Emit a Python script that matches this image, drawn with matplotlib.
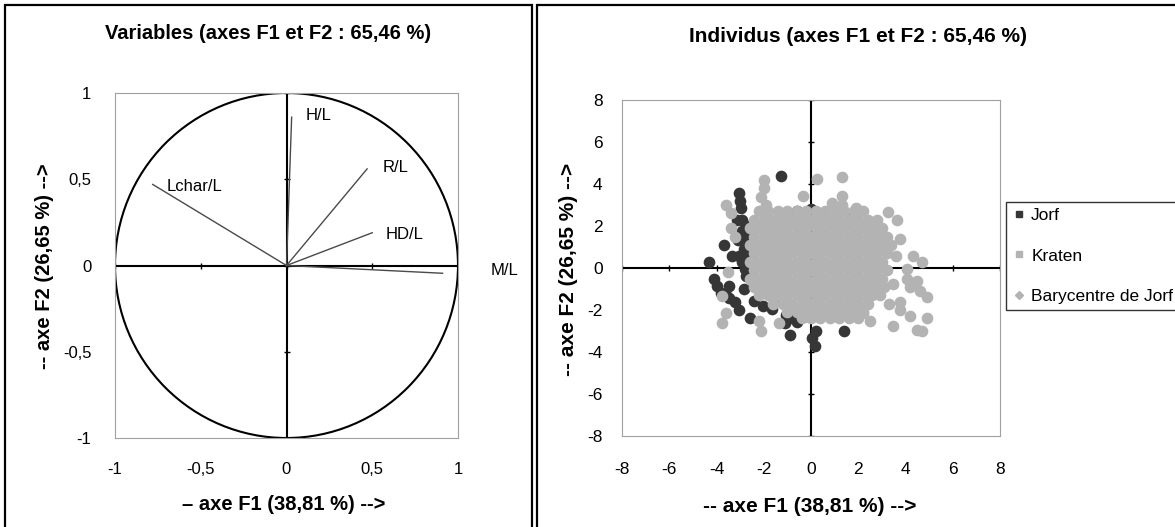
import matplotlib
matplotlib.use("Agg")
import matplotlib.pyplot as plt
from matplotlib.patches import Circle, Rectangle
from matplotlib.lines import Line2D

plt.rcParams['font.family'] = ['Liberation Sans', 'DejaVu Sans']
plt.rcParams['axes.unicode_minus'] = False

# ---- data: correlation circle (variables) ----
var_names = ['H/L', 'R/L', 'HD/L', 'Lchar/L', 'M/L']
var_f1 = [0.03, 0.47, 0.50, -0.78, 0.91]
var_f2 = [0.86, 0.56, 0.19, 0.47, -0.045]
label_x = [0.11, 0.56, 0.58, -0.70, 1.27]
label_y = [0.87, 0.57, 0.18, 0.46, -0.03]
circle_ticks = [-1, -0.5, 0, 0.5, 1]
circle_ticklabels = ['-1', '-0,5', '0', '0,5', '1']

# ---- data: individuals ----
jorf_x = [-1.25, -3.05, -3.0, -2.95, -3.15, -2.9, -2.7, -2.7, -3.7, -3.1, -2.75, -2.85,
          -3.05, -3.35, -2.9, -4.3, -4.1, -4.0, -3.45, -3.6, -3.8, -3.45, -3.2, -3.05,
          -2.6, -2.05, -1.65, -1.35, -1.05, -0.8, -0.9, 0.05, 0.2, 0.15, 1.4, -2.75,
          -2.8, -2.8, -2.85, -0.9, -0.5, -0.2, 0.0, 0.2, -0.6, 1.7, -2.4, -1.3,
          -1.1, -0.6, -2.9]
jorf_y = [4.4, 3.55, 3.2, 2.85, 2.3, 2.3, 2.0, 1.7, 1.1, 1.35, 1.35, 0.9,
          0.55, 0.55, 0.3, 0.3, -0.5, -0.85, -0.85, -1.3, -1.2, -1.45, -1.6, -2.0,
          -2.4, -1.8, -1.95, -1.45, -2.25, -2.4, -3.2, -3.35, -3.0, -3.7, -3.0, -0.4,
          -0.05, 0.6, -1.0, -2.0, -2.3, -2.3, 2.8, 2.6, 2.7, 2.55, -1.55, -1.5,
          -2.6, -2.55, 1.75]

# Kraten: dense core, one row of F2 with its F1 values
kraten_rows = [
    (2.7, [-2.2, -1.8, -1.4, -1.0, -0.6, -0.2, 0.2, 0.6, 1.0, 1.4, 1.8, 2.2]),
    (2.3, [-2.4, -2.0, -1.6, -1.2, -0.8, -0.4, 0.0, 0.4, 0.8, 1.2, 1.6, 2.0, 2.4, 2.8]),
    (1.9, [-2.6, -2.2, -1.8, -1.4, -1.0, -0.6, -0.2, 0.2, 0.6, 1.0, 1.4, 1.8, 2.2, 2.6, 3.0]),
    (1.5, [-2.4, -2.0, -1.6, -1.2, -0.8, -0.4, 0.0, 0.4, 0.8, 1.2, 1.6, 2.0, 2.4, 2.8, 3.2]),
    (1.1, [-2.6, -2.2, -1.8, -1.4, -1.0, -0.6, -0.2, 0.2, 0.6, 1.0, 1.4, 1.8, 2.2, 2.6, 3.0, 3.4]),
    (0.7, [-2.4, -2.0, -1.6, -1.2, -0.8, -0.4, 0.0, 0.4, 0.8, 1.2, 1.6, 2.0, 2.4, 2.8, 3.2]),
    (0.3, [-2.6, -2.2, -1.8, -1.4, -1.0, -0.6, -0.2, 0.2, 0.6, 1.0, 1.4, 1.8, 2.2, 2.6, 3.0]),
    (-0.1, [-2.4, -2.0, -1.6, -1.2, -0.8, -0.4, 0.0, 0.4, 0.8, 1.2, 1.6, 2.0, 2.4, 2.8, 3.2]),
    (-0.5, [-2.6, -2.2, -1.8, -1.4, -1.0, -0.6, -0.2, 0.2, 0.6, 1.0, 1.4, 1.8, 2.2, 2.6, 3.0]),
    (-0.9, [-2.4, -2.0, -1.6, -1.2, -0.8, -0.4, 0.0, 0.4, 0.8, 1.2, 1.6, 2.0, 2.4, 2.8, 3.1]),
    (-1.3, [-2.2, -1.8, -1.4, -1.0, -0.6, -0.2, 0.2, 0.6, 1.0, 1.4, 1.8, 2.2, 2.6, 2.9]),
    (-1.7, [-1.6, -1.2, -0.8, -0.4, 0.0, 0.4, 0.8, 1.2, 1.6, 2.0, 2.4]),
    (-2.1, [-1.0, -0.6, -0.2, 0.2, 0.6, 1.0, 1.4, 1.8, 2.2]),
    (-2.4, [-0.4, 0.0, 0.4, 0.8, 1.2, 1.6, 2.0]),
]
# Kraten: scattered individuals around the core
kraten_out_x = [-2.0, -2.0, -2.1, -1.9, -3.6, -3.4, -3.4, -3.2, -0.35, 0.27, 1.33, 1.33,
                0.9, 1.3, 1.9, 3.25, 3.65, 3.75, 3.6, 4.3, 4.7, 4.05, 4.05, 4.5,
                4.6, 4.9, 3.3, 3.75, 4.2, 4.9, 3.45, 2.5, 4.5, 4.7, 3.75, 3.45,
                4.2, -3.75, -2.1, -2.2, -1.35, -3.75, -3.6, -3.5, 2.2]
kraten_out_y = [4.2, 3.8, 3.4, 3.0, 3.0, 2.6, 1.9, 1.5, 3.45, 4.25, 4.35, 3.45,
                3.1, 3.0, 2.85, 2.65, 2.3, 1.4, 0.55, 0.55, 0.3, -0.05, -0.5, -0.6,
                -1.1, -1.4, -1.7, -2.0, -2.3, -2.4, -2.75, -2.5, -2.95, -3.0, -1.6, -0.75,
                -0.9, -2.6, -3.0, -2.5, -2.6, -1.35, -2.15, -0.2, -2.15]

bary_x = [-1.6]
bary_y = [-0.5]

scatter_ticks = [-8, -6, -4, -2, 0, 2, 4, 6, 8]

kraten_x = list(kraten_out_x)
kraten_y = list(kraten_out_y)
for y, xs in kraten_rows:
    kraten_x += xs
    kraten_y += [y] * len(xs)

dark = '#363636'
light = '#b3b3b3'
box_grey = '#a0a0a0'
W, H = 1175, 527

fig = plt.figure(figsize=(11.75, 5.27), dpi=100)

# panel frames
fig.add_artist(Rectangle((5 / W, -0.05), 527 / W, 1 - 5 / H + 0.05,
                         transform=fig.transFigure, fill=False, lw=1.6, ec='black'))
fig.add_artist(Rectangle((537 / W, -0.05), 700 / W, 1 - 5 / H + 0.05,
                         transform=fig.transFigure, fill=False, lw=1.6, ec='black'))

# ---- left: correlation circle ----
ax1 = fig.add_axes([115 / W, 1 - 438 / H, 343 / W, 345 / H])
ax1.set_xlim(-1, 1)
ax1.set_ylim(-1, 1)
ax1.add_patch(Circle((0, 0), 1, fill=False, ec='black', lw=1.5))
ax1.axhline(0, color='black', lw=1.5)
ax1.axvline(0, color='black', lw=1.5)
ax1.plot(circle_ticks, [0] * len(circle_ticks), ls='none', marker='|', color='black', ms=5)
ax1.plot([0] * len(circle_ticks), circle_ticks, ls='none', marker='_', color='black', ms=5)
for name, x, y, lx, ly in zip(var_names, var_f1, var_f2, label_x, label_y):
    ax1.plot([0, x], [0, y], color='#4a4a4a', lw=1.0)
    ax1.text(lx, ly, name, fontsize=12, va='center', ha='left' if name != 'M/L' else 'center',
             clip_on=False)
ax1.set_xticks(circle_ticks)
ax1.set_xticklabels(circle_ticklabels)
ax1.set_yticks(circle_ticks)
ax1.set_yticklabels(circle_ticklabels)
ax1.tick_params(axis='x', length=0, labelsize=12, pad=17)
ax1.tick_params(axis='y', length=0, labelsize=12, pad=17)
for s in ax1.spines.values():
    s.set_color(box_grey)

fig.text(268 / W, 1 - 34 / H, 'Variables (axes F1 et F2 : 65,46 %)', fontsize=14.5,
         fontweight='bold', ha='center', va='center')
fig.text(284 / W, 1 - 504 / H, '– axe F1 (38,81 %) -->', fontsize=14.5,
         fontweight='bold', ha='center', va='center')
fig.text(45 / W, 1 - 266 / H, '-- axe F2 (26,65 %) -->', fontsize=14.5,
         fontweight='bold', ha='center', va='center', rotation=90)

# ---- right: individuals ----
ax2 = fig.add_axes([622 / W, 1 - 436 / H, 378 / W, 336 / H])
ax2.set_xlim(-8, 8)
ax2.set_ylim(-8, 8)
ax2.axhline(0, color='black', lw=1.5, zorder=1)
ax2.axvline(0, color='black', lw=1.5, zorder=1)
ax2.plot(scatter_ticks, [0] * len(scatter_ticks), ls='none', marker='|', color='black', ms=5)
ax2.plot([0] * len(scatter_ticks), scatter_ticks, ls='none', marker='_', color='black', ms=5)
ax2.plot(jorf_x, jorf_y, ls='none', marker='o', ms=6.6, mew=1.8, color=dark, zorder=2)
ax2.plot(kraten_x, kraten_y, ls='none', marker='o', ms=6.6, mew=1.8, color=light, zorder=3)
ax2.plot(bary_x, bary_y, ls='none', marker='D', ms=6, color=light, zorder=4)
ax2.set_xticks(scatter_ticks)
ax2.set_yticks(scatter_ticks)
ax2.tick_params(axis='x', length=0, labelsize=12.5, pad=19)
ax2.tick_params(axis='y', length=0, labelsize=12.5, pad=14)
for s in ax2.spines.values():
    s.set_color(box_grey)

fig.text(858 / W, 1 - 37 / H, 'Individus (axes F1 et F2 : 65,46 %)', fontsize=15,
         fontweight='bold', ha='center', va='center')
fig.text(810 / W, 1 - 507 / H, '-- axe F1 (38,81 %) -->', fontsize=15,
         fontweight='bold', ha='center', va='center')
fig.text(568 / W, 1 - 269 / H, '-- axe F2 (26,65 %) -->', fontsize=15,
         fontweight='bold', ha='center', va='center', rotation=90)

handles = [
    Line2D([], [], ls='none', marker='s', ms=4.5, color=dark),
    Line2D([], [], ls='none', marker='s', ms=4.5, color=light),
    Line2D([], [], ls='none', marker='D', ms=4.5, color=light),
]
leg = fig.legend(handles, ['Jorf', 'Kraten', 'Barycentre de Jorf'], loc='upper left',
                 bbox_to_anchor=(1006 / W, 1 - 202 / H), fontsize=12.5,
                 frameon=True, fancybox=False, labelspacing=1.45, handlelength=0.8,
                 handletextpad=0.3, borderpad=0.35, borderaxespad=0)
leg.get_frame().set_edgecolor('black')
leg.get_frame().set_linewidth(1.0)

fig.savefig('out.png', dpi=100)
